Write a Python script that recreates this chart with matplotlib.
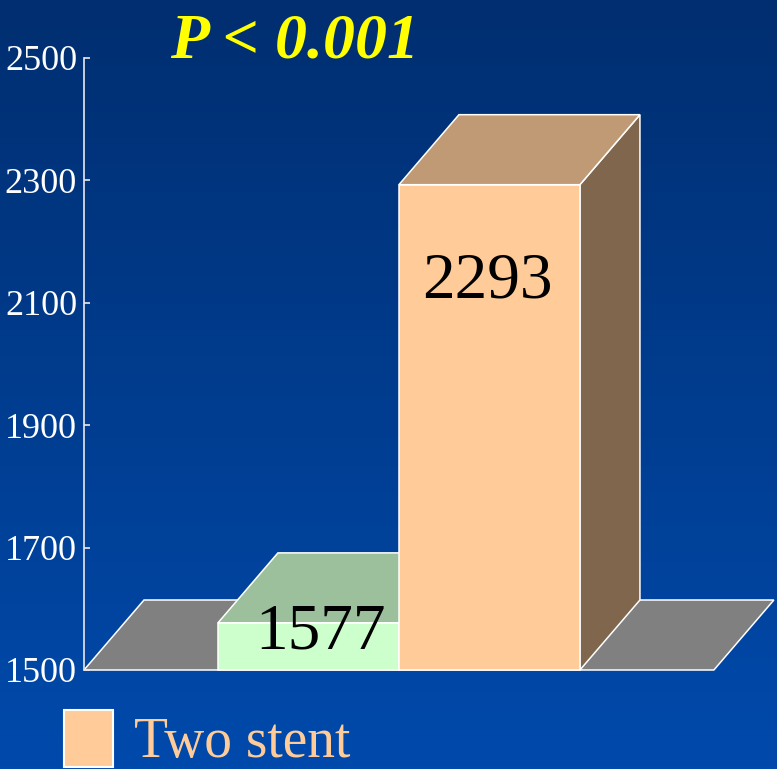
import matplotlib
matplotlib.use("Agg")
import matplotlib.pyplot as plt
import numpy as np
from matplotlib.colors import LinearSegmentedColormap
from matplotlib.patches import Polygon, Patch

# data
categories = ["One stent", "Two stent"]
values = [1577, 2293]
value_labels = ["1577", "2293"]
y_ticks = [1500, 1700, 1900, 2100, 2300, 2500]
title = "P < 0.001"
legend_labels = ["Two stent"]

# styling
front_colors = ["#CCFFCC", "#FFCC99"]
top_colors = ["#9CBF9C", "#C09A74"]
side_colors = ["#7A9A7A", "#7F664C"]
label_offsets = [(12, -26), (-2, -113)]   # pixels from bar top centre to label baseline
floor_color = "#808080"
edge = "white"

plt.rcParams["font.family"] = ["Liberation Serif", "DejaVu Serif"]

W, H = 777, 769
fig = plt.figure(figsize=(W / 100, H / 100), dpi=100)

# gradient background
bg = fig.add_axes([0, 0, 1, 1], zorder=-1)
cmap = LinearSegmentedColormap.from_list("bg", ["#002E70", "#004AAC"])
bg.imshow(np.linspace(0, 1, 256).reshape(-1, 1), aspect="auto", cmap=cmap,
          extent=[0, 1, 0, 1])
bg.set_axis_off()

base = y_ticks[0]
ax = fig.add_axes([84 / W, 99 / H, 693 / W, 612 / H])
ax.patch.set_alpha(0)
unit_px = 181          # one bar width in pixels
pad = 0.74             # floor overhang beside the bars, in bar widths
x0 = -0.5 - pad
ax.set_xlim(x0, x0 + 693 / unit_px)
ax.set_ylim(base, y_ticks[-1])

# 3d depth offset (60 px right, 70 px up)
dx = 60 / unit_px
dy = 70 * (y_ticks[-1] - base) / 612

x_end = len(values) - 0.5 + pad
ax.add_patch(Polygon([(x0, base), (x_end, base), (x_end + dx, base + dy), (x0 + dx, base + dy)],
                     closed=True, facecolor=floor_color, edgecolor=edge, lw=1.1,
                     zorder=1, clip_on=False))

handles = []
for i, v in enumerate(values):
    z = 2 + 3 * i
    l, r = i - 0.5, i + 0.5
    ax.add_patch(Polygon([(r, base), (r, v), (r + dx, v + dy), (r + dx, base + dy)],
                         closed=True, facecolor=side_colors[i], edgecolor=edge,
                         lw=1.1, zorder=z, clip_on=False))
    ax.add_patch(Polygon([(l, v), (r, v), (r + dx, v + dy), (l + dx, v + dy)],
                         closed=True, facecolor=top_colors[i], edgecolor=edge,
                         lw=1.1, zorder=z + 1, clip_on=False))
    b = ax.bar(i, v - base, bottom=base, width=1, color=front_colors[i],
               edgecolor=edge, lw=1.1, zorder=z + 2, clip_on=False)
    handles.append(b)
    ax.annotate(value_labels[i], xy=(i, v), xytext=label_offsets[i],
                textcoords="offset pixels", ha="center", va="baseline",
                fontsize=47, color="black", zorder=20)

for s in ["top", "right", "bottom"]:
    ax.spines[s].set_visible(False)
ax.spines["left"].set_color("#E8E8F0")
ax.spines["left"].set_linewidth(1.2)
ax.set_xticks([])
ax.set_yticks(y_ticks)
ax.tick_params(axis="y", direction="in", length=4.5, width=1.2, colors="#E8E8F0",
               labelcolor="white", labelsize=26, pad=5)

fig.text(295 / W, 1 - 57 / H, title, ha="center", va="baseline", fontsize=46,
         weight="bold", style="italic", color="#FFFF00")

fig.legend([Patch(facecolor=front_colors[1], edgecolor=edge, lw=1.5)], legend_labels,
           loc="upper left", bbox_to_anchor=(64 / W, 1 - 710 / H), frameon=False,
           fontsize=40, labelcolor=front_colors[1], handlelength=0.88,
           handleheight=1.2, handletextpad=0.38, borderpad=0, borderaxespad=0)

fig.savefig("out.png", dpi=100)
